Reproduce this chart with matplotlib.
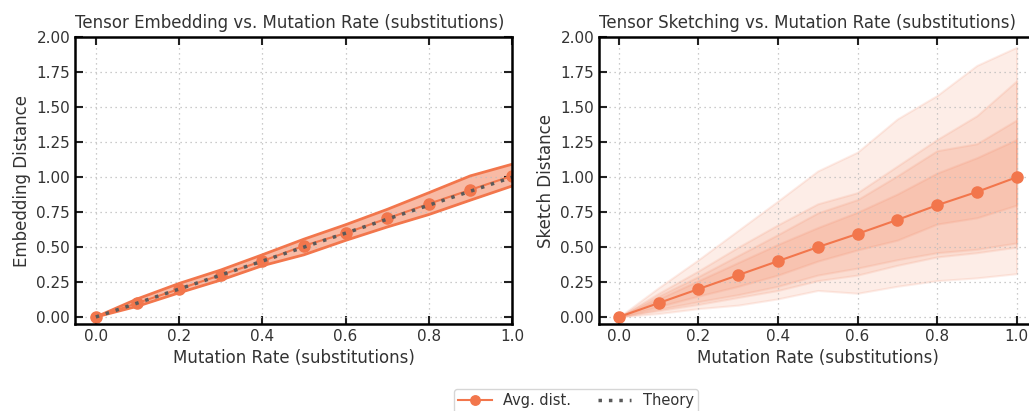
import matplotlib
matplotlib.use("Agg")
import matplotlib.pyplot as plt
import numpy as np

# mutation rates
rates = [0.0, 0.1, 0.2, 0.3, 0.4, 0.5, 0.6, 0.7, 0.8, 0.9, 1.0]

# tensor embedding: mean and band
emb_mean = [0.0, 0.10, 0.20, 0.30, 0.40, 0.51, 0.60, 0.705, 0.81, 0.91, 1.01]
emb_low = [0.0, 0.077, 0.173, 0.264, 0.367, 0.445, 0.548, 0.644, 0.733, 0.836, 0.937]
emb_high = [0.0, 0.13, 0.24, 0.336, 0.445, 0.557, 0.66, 0.77, 0.889, 1.01, 1.093]

# tensor sketching: mean and nested bands (outer -> inner)
sk_mean = [0.0, 0.10, 0.20, 0.30, 0.40, 0.50, 0.595, 0.695, 0.80, 0.895, 1.0]
sk_low = [
    [0.0, 0.025, 0.06, 0.085, 0.13, 0.19, 0.17, 0.22, 0.26, 0.28, 0.31],
    [0.0, 0.045, 0.09, 0.14, 0.19, 0.26, 0.30, 0.37, 0.43, 0.46, 0.50],
    [0.0, 0.055, 0.11, 0.16, 0.22, 0.30, 0.35, 0.41, 0.46, 0.485, 0.53],
    [0.0, 0.075, 0.15, 0.22, 0.30, 0.40, 0.48, 0.55, 0.665, 0.71, 0.80],
]
sk_high = [
    [0.0, 0.21, 0.41, 0.62, 0.83, 1.045, 1.18, 1.417, 1.585, 1.80, 1.93],
    [0.0, 0.17, 0.33, 0.50, 0.66, 0.81, 0.89, 1.08, 1.27, 1.44, 1.69],
    [0.0, 0.15, 0.29, 0.44, 0.59, 0.745, 0.84, 1.01, 1.19, 1.24, 1.41],
    [0.0, 0.13, 0.26, 0.39, 0.52, 0.64, 0.75, 0.88, 1.03, 1.14, 1.27],
]

ORANGE = "#f2764c"
GRAY = "#5a5a5a"
TEXT = "#333333"

plt.rcParams.update({
    "font.family": "DejaVu Sans",
    "font.size": 11,
    "text.color": TEXT,
    "axes.labelcolor": TEXT,
    "xtick.color": "#222222",
    "ytick.color": "#222222",
    "xtick.labelcolor": TEXT,
    "ytick.labelcolor": TEXT,
    "xtick.direction": "in",
    "ytick.direction": "in",
    "xtick.top": True,
    "ytick.right": True,
    "xtick.major.size": 6,
    "ytick.major.size": 6,
    "xtick.major.width": 1.5,
    "ytick.major.width": 1.5,
    "axes.linewidth": 1.8,
})

fig = plt.figure(figsize=(10.29, 4.11), dpi=100)
ax1 = fig.add_axes([75 / 1029, 87 / 411, 437 / 1029, 286.5 / 411])
ax2 = fig.add_axes([599 / 1029, 87 / 411, 437.5 / 1029, 286.5 / 411])

# left: embedding
ax1.fill_between(rates, emb_low, emb_high, color=ORANGE, alpha=0.5, lw=0)
ax1.plot(rates, emb_low, color=ORANGE, lw=2)
ax1.plot(rates, emb_high, color=ORANGE, lw=2)
ax1.plot(rates, emb_mean, color=ORANGE, lw=1.5, marker="o", ms=8, label="Avg. dist.")
ax1.plot(rates, rates, color=GRAY, lw=2.5, ls=(0, (1, 2)), label="Theory")
ax1.set_xlim(-0.05, 1.0)
ax1.set_title("Tensor Embedding vs. Mutation Rate (substitutions)", fontsize=12, pad=7, loc="left")
ax1.set_ylabel("Embedding Distance", fontsize=12)

# right: sketching
for lo, hi in zip(sk_low, sk_high):
    ax2.fill_between(rates, lo, hi, color=ORANGE, alpha=0.13, lw=1.5, edgecolor=(0.95, 0.46, 0.3, 0.15))
ax2.plot(rates, sk_mean, color=ORANGE, lw=1.5, marker="o", ms=8)
ax2.set_xlim(-0.05, 1.05)
ax2.set_title("Tensor Sketching vs. Mutation Rate (substitutions)", fontsize=12, pad=7, loc="left")
ax2.set_ylabel("Sketch Distance", fontsize=12)

for ax in (ax1, ax2):
    ax.set_ylim(-0.05, 2.0)
    ax.set_yticks(np.arange(0, 2.01, 0.25))
    ax.set_xticks(np.arange(0, 1.01, 0.2))
    ax.set_xlabel("Mutation Rate (substitutions)", fontsize=12)
    ax.grid(True, ls=(0, (1, 3)), color="#bbbbbb", lw=0.9)
    ax.tick_params(labelsize=11)

handles, labels = ax1.get_legend_handles_labels()
fig.legend(handles, labels, loc="upper center", bbox_to_anchor=(576 / 1029, 1 - 389 / 411),
           ncol=2, frameon=True, fontsize=10.5, edgecolor="#cccccc", fancybox=True,
           handlelength=2.3, columnspacing=1.8, borderpad=0.3, markerscale=0.85,
           borderaxespad=0)

fig.savefig("out.png", dpi=100)
